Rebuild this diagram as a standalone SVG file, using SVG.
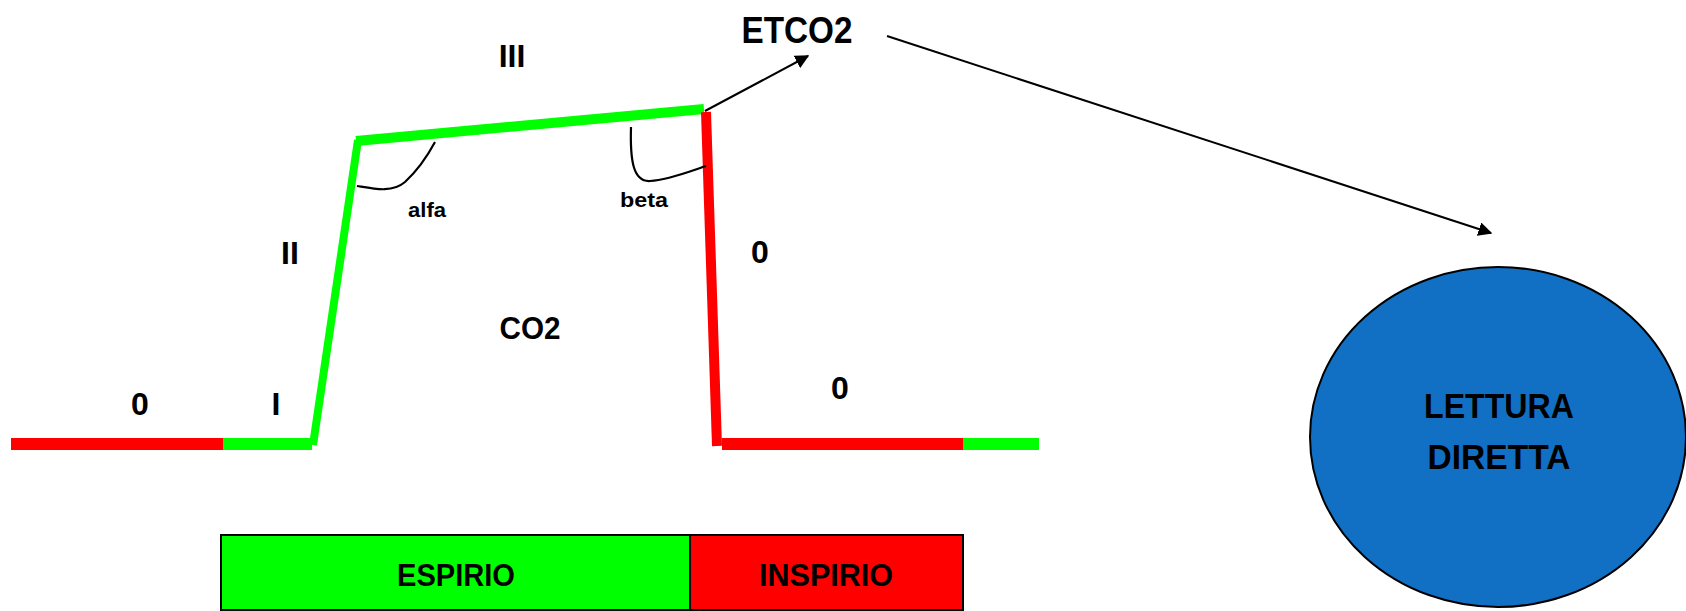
<svg xmlns="http://www.w3.org/2000/svg" width="1686" height="611" viewBox="0 0 1686 611">
<style>
.t{font-family:"Liberation Sans",Arial,sans-serif;font-weight:bold;fill:#000;text-anchor:middle}
.g{stroke:#00FF00;fill:none}
.r{stroke:#FF0000;fill:none}
.arc{stroke:#000;stroke-width:2.2;fill:none}
.con{stroke:#000;stroke-width:2;fill:none}
</style>
<defs>
<marker id="ah2" viewBox="0 0 10 10" refX="9" refY="5" markerWidth="14" markerHeight="14" orient="auto" markerUnits="userSpaceOnUse">
<path d="M0,0 L10,5 L0,10 z" fill="#000"/>
</marker>
</defs>
<rect width="1686" height="611" fill="#fff"/>
<g id="curve">
<line class="r" x1="11" y1="444" x2="223" y2="444" stroke-width="12"/>
<line class="g" x1="223" y1="444" x2="312" y2="444" stroke-width="12"/>
<line class="g" x1="313" y1="445" x2="358" y2="140" stroke-width="8"/>
<line class="g" x1="356" y1="141" x2="704" y2="109" stroke-width="10"/>
<line class="r" x1="706" y1="112" x2="717" y2="446" stroke-width="10"/>
<line class="r" x1="722" y1="444" x2="963" y2="444" stroke-width="12"/>
<line class="g" x1="963" y1="444" x2="1039" y2="444" stroke-width="12"/>
<path class="arc" d="M357,186 C375,189 392,193 405,182 C418,170 428,155 435,142"/>
<path class="arc" d="M631,127 C630,160 633,182 650,181 C668,180 688,172 706,166"/>
</g>
<g id="labels">
<text class="t" x="512" y="67" font-size="32">III</text>
<text class="t" x="290" y="264" font-size="32">II</text>
<text class="t" x="427" y="217" font-size="21" textLength="38" lengthAdjust="spacingAndGlyphs">alfa</text>
<text class="t" x="644" y="207" font-size="21" textLength="48" lengthAdjust="spacingAndGlyphs">beta</text>
<text class="t" x="760" y="263" font-size="32">0</text>
<text class="t" x="530" y="339" font-size="32" textLength="61" lengthAdjust="spacingAndGlyphs">CO2</text>
<text class="t" x="140" y="415" font-size="32">0</text>
<text class="t" x="276" y="415" font-size="32">I</text>
<text class="t" x="840" y="399" font-size="32">0</text>
</g>
<g id="etco2">
<text class="t" x="797" y="43" font-size="37" textLength="111" lengthAdjust="spacingAndGlyphs">ETCO2</text>
</g>
<g id="phase-bar">
<rect x="221" y="535" width="469" height="75" fill="#00FF00" stroke="#000" stroke-width="2"/>
<rect x="690" y="535" width="273" height="75" fill="#FF0000" stroke="#000" stroke-width="2"/>
<text class="t" x="456" y="586" font-size="32" textLength="118" lengthAdjust="spacingAndGlyphs">ESPIRIO</text>
<text class="t" x="826" y="586" font-size="32" textLength="134" lengthAdjust="spacingAndGlyphs">INSPIRIO</text>
</g>
<g id="lettura">
<ellipse cx="1498" cy="437" rx="188" ry="170" fill="#1170C4" stroke="#000" stroke-width="2"/>
<text class="t" x="1499" y="418" font-size="35" textLength="150" lengthAdjust="spacingAndGlyphs">LETTURA</text>
<text class="t" x="1499" y="469" font-size="35" textLength="143" lengthAdjust="spacingAndGlyphs">DIRETTA</text>
</g>
<g id="connectors">
<line class="con" x1="705" y1="111" x2="808" y2="56" marker-end="url(#ah2)"/>
<line class="con" x1="887" y1="36" x2="1491" y2="233" marker-end="url(#ah2)"/>
</g>
</svg>
